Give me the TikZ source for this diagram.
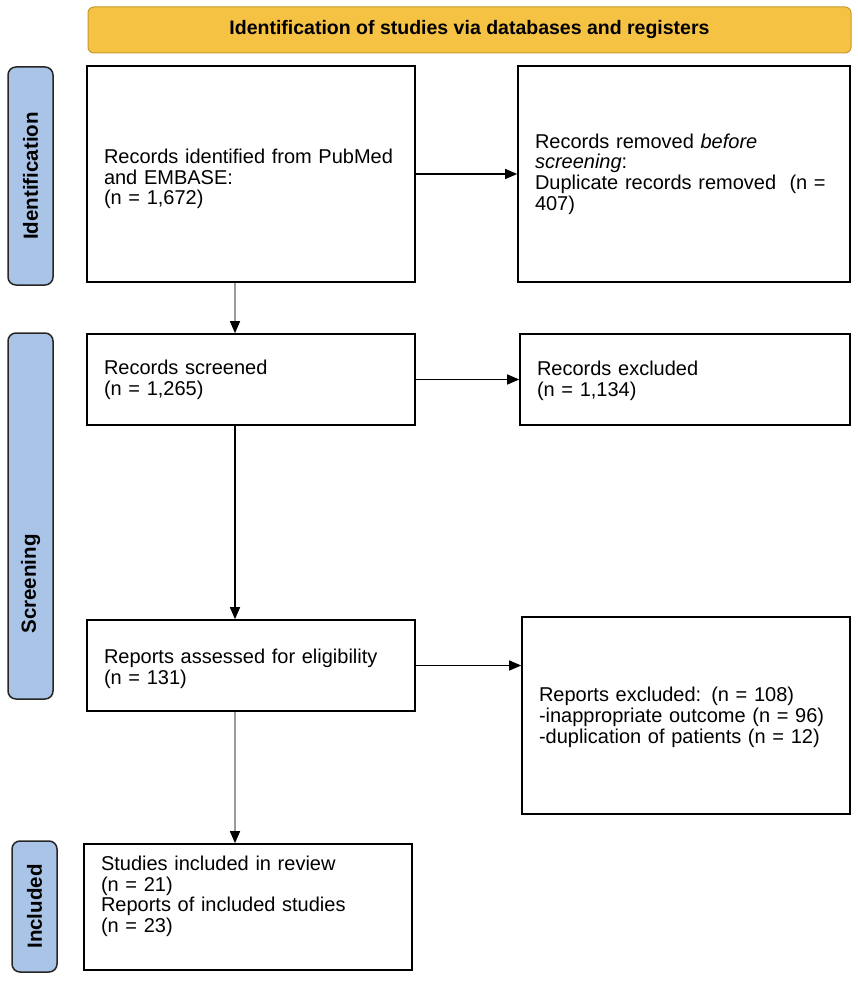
\documentclass[tikz,border=0pt]{standalone}
\usepackage{fontspec}
\setmainfont{Liberation Sans}
\usetikzlibrary{arrows.meta}
\definecolor{bannerfill}{HTML}{F5C244}
\definecolor{bannerdraw}{HTML}{C49A2E}
\definecolor{barfill}{HTML}{A9C4E6}
\definecolor{shaftgray}{HTML}{9A9A9A}
\begin{document}
\begin{tikzpicture}[x=1pt,y=-1pt,
  txt/.style={font=\fontsize{20}{20.7}\selectfont},
  box/.style={draw=black, line width=1.6pt, fill=white, inner xsep=17pt, inner ysep=0pt, align=left, txt},
  bar/.style={draw=black!85, line width=1.5pt, fill=barfill, rounded corners=8pt, rotate=90, minimum height=45pt, inner sep=0pt},
  barlabel/.style={rotate=90, inner sep=0pt, font=\fontsize{20.5}{21}\selectfont\bfseries},
  banner/.style={draw=bannerdraw, line width=1pt, fill=bannerfill, rounded corners=6pt, minimum width=763pt, minimum height=46pt, font=\fontsize{19.5}{20}\selectfont\bfseries},
  arr/.style={-{Triangle[length=12pt,width=10pt,color=black,fill=black]}, line width=1.3pt, draw=black},
  grayarr/.style={arr, draw=shaftgray}
]
\useasboundingbox (0,0) rectangle (857,981);

\node[banner] (ban) at (469.5,30) {Identification of studies via databases and registers};

\node[bar, minimum width=218pt] (idbar) at (30.5,176) {};
\node[barlabel] (idlab) at (idbar.center) {Identification};
\node[bar, minimum width=366pt] (scbar) at (30.5,516) {};
\node[barlabel] (sclab) at (30.5,584) {Screening};
\node[bar, minimum width=131pt] (inbar) at (34.5,906.5) {};
\node[barlabel] (inlab) at (inbar.center) {Included};

\node[box, minimum width=328pt, minimum height=216pt, text width=294pt] (b1) at (251,174)
  {\rule{0pt}{24.6pt}Records identified from PubMed\\and EMBASE:\\(n = 1,672)};
\node[box, minimum width=332pt, minimum height=216pt, text width=298pt] (b2) at (684,174)
  {Records removed \textit{before}\\\textit{screening}:\\Duplicate records removed \ (n =\\407)};
\node[box, minimum width=328pt, minimum height=91pt, text width=294pt] (b3) at (251,379.5)
  {Records screened\\(n = 1,265)};
\node[box, minimum width=330pt, minimum height=91pt, text width=296pt] (b4) at (685,379.5)
  {\rule{0pt}{17pt}Records excluded\\(n = 1,134)};
\node[box, minimum width=328pt, minimum height=91pt, text width=294pt] (b5) at (251,665.5)
  {\rule{0pt}{20.6pt}Reports assessed for eligibility\\(n = 131)};
\node[box, minimum width=328pt, minimum height=197pt, text width=294pt] (b6) at (686,715.5)
  {\rule{0pt}{18pt}Reports excluded: (n = 108)\\-inappropriate outcome (n = 96)\\-duplication of patients (n = 12)};
\node[box, minimum width=328pt, minimum height=126pt, text width=294pt] (b7) at (248,907)
  {Studies included in review\\(n = 21)\\Reports of included studies\\(n = 23)\\[5pt]~};

\draw[grayarr] ([xshift=-16pt]b1.south) -- ([xshift=-16pt]b3.north);
\draw[arr] ([xshift=-16pt]b3.south) -- ([xshift=-16pt]b5.north);
\draw[grayarr] ([xshift=-16pt]b5.south) -- ([xshift=-16pt]b5.south |- b7.north);
\draw[arr] (b1.east) -- (b2.west);
\draw[arr] (b3.east) -- (b4.west);
\draw[arr] (b5.east) -- (b5.east -| b6.west);
\end{tikzpicture}
\end{document}
